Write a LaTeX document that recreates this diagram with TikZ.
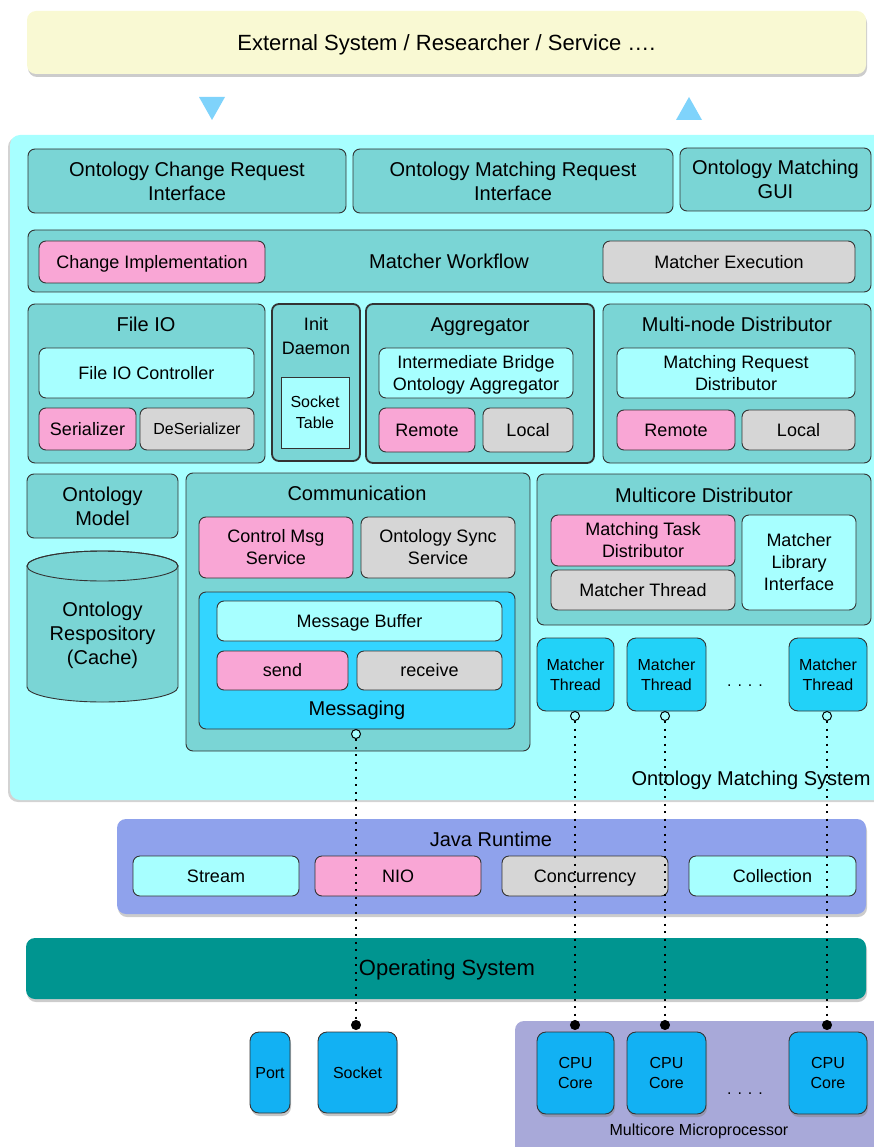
\documentclass[tikz,border=0pt]{standalone}
\usepackage{fontspec}
\setmainfont{Liberation Sans}
\usetikzlibrary{shadows}

\definecolor{edgec}{HTML}{333333}
\definecolor{extfill}{HTML}{F9F9D3}
\definecolor{arrowfill}{HTML}{7FD3FB}
\definecolor{sysfill}{HTML}{A7FFFF}
\definecolor{tealfill}{HTML}{7AD5D5}
\definecolor{pinkfill}{HTML}{F9A6D5}
\definecolor{grayfill}{HTML}{D6D6D6}
\definecolor{cyanfill}{HTML}{A7FFFF}
\definecolor{msgfill}{HTML}{33D5FF}
\definecolor{threadfill}{HTML}{22D2F8}
\definecolor{javafill}{HTML}{8FA2EC}
\definecolor{osfill}{HTML}{009590}
\definecolor{cpufill}{HTML}{12B1F3}
\definecolor{mcpfill}{HTML}{A8A9D9}

% struts: 1.016em up on the first line, 0.3em down on the last, so capitals sit centred
\newcommand\topstrut{\rule{0pt}{1.016em}}
\newcommand\botstrut{\rule[-0.3em]{0pt}{0.3em}}
\newcommand\lbl[1]{\topstrut#1\botstrut}
% box from corner (x1,y1) to corner (x2,y2): name, style, x1, y1, x2, y2, text
\newcommand\bx[7]{\node[#2, minimum width={(#5-#3)*1pt}, minimum height={(#6-#4)*1pt}] (#1) at ({(#3+#5)/2},{(#4+#6)/2}) {\lbl{#7}};}

\tikzset{
  plain/.style={inner sep=0pt, outer sep=0pt, align=center, text=black},
  base/.style={plain},
  box/.style={base, draw=edgec, line width=0.9pt, rounded corners=7pt, font=\fontsize{18}{22}\selectfont},
  tealbox/.style={box, fill=tealfill, font=\fontsize{20}{24}\selectfont},
  pinkbox/.style={box, fill=pinkfill},
  graybox/.style={box, fill=grayfill},
  cyanbox/.style={box, fill=cyanfill},
  thickbox/.style={tealbox, line width=1.8pt},
  msgbox/.style={box, fill=msgfill},
  threadbox/.style={box, fill=threadfill, rounded corners=9pt, font=\fontsize{16}{20}\selectfont},
  cpubox/.style={box, fill=cpufill, rounded corners=9pt, font=\fontsize{16}{20}\selectfont,
    drop shadow={shadow xshift=1pt, shadow yshift=-3pt, opacity=0.45}},
  title/.style={base, font=\fontsize{20}{24}\selectfont},
  ellipsis/.style={plain, anchor=base, font=\fontsize{16}{20}\selectfont},
  shadowed/.style={drop shadow={shadow xshift=1pt, shadow yshift=-3pt, opacity=0.4}},
  port/.style={circle, draw=black, line width=1pt, inner sep=0pt, minimum size=9pt},
  openport/.style={port, fill=sysfill},
  fullport/.style={port, fill=black},
  link/.style={line width=1.2pt, dash pattern=on 2pt off 5.5pt},
}

\begin{document}
\begin{tikzpicture}[x=1pt, y=-1pt]
\useasboundingbox (0,0) rectangle (874,1147);
\clip (0,0) rectangle (874,1147);

% outside world
\bx{ext}{base, fill=extfill, rounded corners=9pt, shadowed, font=\fontsize{22}{26}\selectfont}{27}{11}{866}{74}{External System / Researcher / Service ….}
\fill[arrowfill] (199,97) -- (225,97) -- (212,120) -- cycle;
\fill[arrowfill] (676,120) -- (702,120) -- (689,97) -- cycle;

% ontology matching system
\bx{oms}{plain, fill=sysfill, rounded corners=10pt, drop shadow={shadow xshift=-2pt, shadow yshift=-2pt, opacity=0.35}}{10}{135}{890}{800}{}
\node[title] (omslabel) at (751,778) {\lbl{Ontology Matching System}};

\bx{ocri}{tealbox}{28}{149}{346}{213}{Ontology Change Request\\Interface}
\bx{omri}{tealbox}{353}{149}{673}{213}{Ontology Matching Request\\Interface}
\bx{gui}{tealbox}{680}{148}{871}{211}{Ontology Matching\\GUI}

\bx{mwf}{tealbox}{28}{230}{871}{292}{}
\node[title] (mwflabel) at (449,261) {\lbl{Matcher Workflow}};
\bx{chg}{pinkbox}{39}{241}{265}{283}{Change Implementation}
\bx{mexe}{graybox}{603}{241}{855}{283}{Matcher Execution}

% file io
\bx{fio}{tealbox}{28}{304}{265}{463}{}
\node[title] (fiolabel) at (146,324) {\lbl{File IO}};
\bx{fioc}{cyanbox}{39}{348}{254}{398}{File IO Controller}
\bx{ser}{pinkbox}{39}{408}{136}{450}{Serializer}
\bx{deser}{graybox, font=\fontsize{16}{20}\selectfont}{140}{408}{254}{450}{DeSerializer}

% init daemon
\bx{init}{thickbox}{272}{304}{360}{461}{}
\node[base, font=\fontsize{18}{24}\selectfont] (initlabel) at (316,336) {\lbl{Init\\Daemon}};
\bx{socktab}{cyanbox, rounded corners=0pt, font=\fontsize{16}{21}\selectfont}{281}{377}{349}{448}{Socket\\Table}

% aggregator
\bx{agg}{thickbox}{366}{304}{594}{463}{}
\node[title] (agglabel) at (480,324) {\lbl{Aggregator}};
\bx{ibo}{cyanbox}{379}{348}{573}{398}{Intermediate Bridge\\Ontology Aggregator}
\bx{aremote}{pinkbox}{379}{408}{475}{452}{Remote}
\bx{alocal}{graybox}{483}{408}{573}{452}{Local}

% multi-node distributor
\bx{mnd}{tealbox}{603}{304}{871}{463}{}
\node[title] (mndlabel) at (737,324) {\lbl{Multi-node Distributor}};
\bx{mrd}{cyanbox}{617}{348}{855}{398}{Matching Request\\Distributor}
\bx{mremote}{pinkbox}{617}{410}{735}{450}{Remote}
\bx{mlocal}{graybox}{742}{410}{855}{450}{Local}

% ontology model and repository
\bx{omodel}{tealbox}{27}{474}{178}{538}{Ontology\\Model}
\filldraw[fill=tealfill, draw=edgec, line width=0.9pt]
  (27,566) -- (27,687) arc[start angle=180, end angle=360, x radius=75.5pt, y radius=15pt]
  -- (178,566) arc[start angle=0, end angle=180, x radius=75.5pt, y radius=15pt] -- cycle;
\draw[edgec, line width=0.9pt] (102.5,566) ellipse[x radius=75.5pt, y radius=15pt];
\node[title] (repo) at (102.5,633) {\lbl{Ontology\\Respository\\(Cache)}};

% communication
\bx{comm}{tealbox}{186}{473}{530}{751}{}
\node[title] (commlabel) at (357,493) {\lbl{Communication}};
\bx{cms}{pinkbox}{199}{517}{353}{578}{Control Msg\\Service}
\bx{oss}{graybox}{361}{517}{515}{578}{Ontology Sync\\Service}
\bx{msging}{msgbox}{199}{592}{515}{729}{}
\bx{mbuf}{cyanbox}{217}{601}{502}{641}{Message Buffer}
\bx{send}{pinkbox}{217}{651}{348}{690}{send}
\bx{recv}{graybox}{357}{651}{502}{690}{receive}
\node[title] (msglabel) at (357,708) {\lbl{Messaging}};

% multicore distributor
\bx{mcd}{tealbox}{537}{474}{871}{625}{}
\node[title] (mcdlabel) at (704,495) {\lbl{Multicore Distributor}};
\bx{mtd}{pinkbox}{551}{515}{735}{566}{Matching Task\\Distributor}
\bx{mth}{graybox}{551}{570}{735}{610}{Matcher Thread}
\bx{mli}{cyanbox}{742}{515}{856}{610}{Matcher\\Library\\Interface}

% matcher threads
\bx{mt1}{threadbox}{537}{638}{614}{711}{Matcher\\Thread}
\bx{mt2}{threadbox}{627}{638}{706}{711}{Matcher\\Thread}
\bx{mt3}{threadbox}{789}{638}{867}{711}{Matcher\\Thread}
\node[ellipsis] (tdots) at (745,686) {. . . .};

% java runtime
\bx{jvm}{plain, fill=javafill, rounded corners=9pt, shadowed}{117}{819}{866}{914}{}
\node[title] (jvmlabel) at (491,839) {\lbl{Java Runtime}};
\bx{stream}{cyanbox}{133}{856}{299}{896}{Stream}
\bx{nio}{pinkbox}{315}{856}{481}{896}{NIO}
\bx{conc}{graybox}{502}{856}{668}{896}{Concurrency}
\bx{coll}{cyanbox}{689}{856}{856}{896}{Collection}

% operating system
\bx{os}{plain, fill=osfill, rounded corners=9pt, shadowed}{26}{938}{866}{999}{}
\node[base, font=\fontsize{22}{26}\selectfont] (oslabel) at (447,968) {\lbl{Operating System}};

% hardware
\bx{port}{cpubox}{250}{1032}{290}{1113}{Port}
\bx{sockt}{cpubox}{318}{1032}{397}{1113}{Socket}
\bx{mcp}{plain, fill=mcpfill, rounded corners=9pt}{515}{1021}{890}{1160}{}
\node[base, font=\fontsize{16}{20}\selectfont] (mcplabel) at (699,1130) {\lbl{Multicore Microprocessor}};
\bx{cpu1}{cpubox}{537}{1032}{614}{1114}{CPU\\Core}
\bx{cpu2}{cpubox}{627}{1032}{706}{1114}{CPU\\Core}
\bx{cpu3}{cpubox}{789}{1032}{867}{1114}{CPU\\Core}
\node[ellipsis] (cdots) at (745,1094) {. . . .};

% ports and their links down to the hardware
\node[openport] (pmsg) at (356,734) {};
\node[openport] (pt1) at (575,716) {};
\node[openport] (pt2) at (665,716) {};
\node[openport] (pt3) at (827,716) {};
\node[fullport] (hsock) at (356,1025) {};
\node[fullport] (hc1) at (575,1025) {};
\node[fullport] (hc2) at (665,1025) {};
\node[fullport] (hc3) at (827,1025) {};
\draw[link] (pmsg) -- (hsock);
\draw[link] (pt1) -- (hc1);
\draw[link] (pt2) -- (hc2);
\draw[link] (pt3) -- (hc3);
\end{tikzpicture}
\end{document}
